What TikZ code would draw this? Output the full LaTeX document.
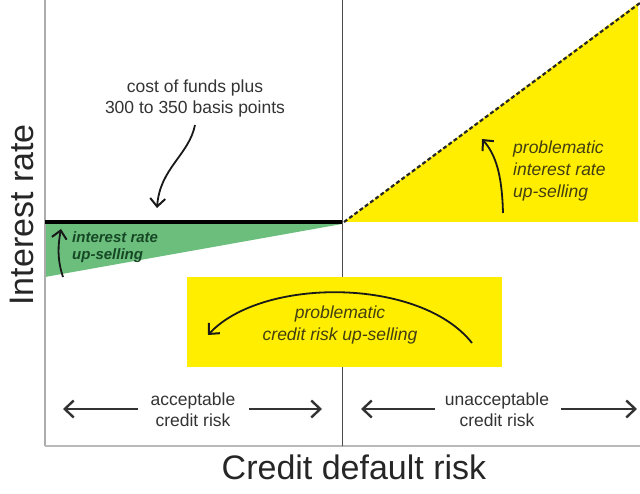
\documentclass[tikz,border=0pt]{standalone}
\usepackage{fontspec}
\setmainfont{Liberation Sans}
\usepackage{xcolor}
\usetikzlibrary{arrows.meta}
\definecolor{zoneyellow}{RGB}{255,238,0}
\definecolor{zonegreen}{RGB}{108,190,124}
\definecolor{inkgray}{RGB}{51,51,51}
\definecolor{inkgreen}{RGB}{22,72,38}
\definecolor{inkolive}{RGB}{66,62,18}

\begin{document}
\begin{tikzpicture}[x=1pt, y=-1pt,
  axisline/.style={draw=gray!65, line width=1.4pt},
  baseline/.style={draw=gray!55, line width=2.6pt},
  divider/.style={draw=black!70, line width=1pt},
  note/.style={font=\fontsize{17.5}{21}\selectfont, text=inkgray, align=center, inner sep=0pt},
  tag/.style={font=\fontsize{17.5}{22}\selectfont\itshape, text=inkolive, align=center, inner sep=0pt},
  greentag/.style={font=\fontsize{15}{17}\selectfont\itshape\bfseries, text=inkgreen, align=left, inner sep=0pt},
  axistitle/.style={font=\fontsize{34}{40}\selectfont, text=black!85, inner sep=0pt},
  bent/.style={draw=black!90, line width=1.8pt, -{Straight Barb[length=8pt,width=15pt,line width=2pt]}},
  spanarrow/.style={draw=inkgray, line width=1.6pt, -{Straight Barb[length=9pt,width=17pt,line width=2.4pt]}},
]
\useasboundingbox (0,0) rectangle (640,494);
% Zones
\fill[zonegreen]  (45,224) -- (342,224) -- (45,277) -- cycle;
\fill[zoneyellow] (344,222) -- (638,3) -- (638,222) -- cycle;
% Axes
\draw[axisline] (45,0) -- (45,446);
\draw[baseline] (45,446) -- (640,446);
\draw[divider] (342,0) -- (342,446);
\fill[zoneyellow] (187,277) rectangle (502,367);
\draw[black, line width=3.5pt] (45,222) -- (342,222);
\draw[black!85, line width=2.2pt, dash pattern=on 4pt off 2.5pt] (344,222) -- (640,3);
% Texts
\node[note] (cost) at (195,98.5) {cost of funds plus\\300 to 350 basis points};
\node[greentag, anchor=west] (irup) at (72,247) {interest rate\\up-selling};
\node[tag, align=left, anchor=west] (pirup) at (513,171) {problematic\\interest rate\\up-selling};
\node[tag] (pcrup) at (340,325) {problematic\\credit risk up-selling};
\node[note] (acc) at (193,410) {acceptable\\credit risk};
\node[note] (unacc) at (497,410) {unacceptable\\credit risk};
\node[axistitle] (xtitle) at (354,467) {Credit default risk};
\node[axistitle, rotate=90] (ytitle) at (22,215) {Interest rate};
% Arrows
\coordinate (costTail) at (195,125);
\coordinate (costTip)  at (157,208);
\draw[bent] (costTail) .. controls (189,155) and (160,168) .. (costTip);
\coordinate (irTail) at (63,277);
\coordinate (irTip)  at (61,229);
\draw[bent] (irTail) .. controls (57,259) and (58,245) .. (irTip);
\coordinate (pirTail) at (503,213);
\coordinate (pirTip)  at (482,139);
\draw[bent] (pirTail) .. controls (502,175) and (496,155) .. (pirTip);
\coordinate (pcrTail) at (472,343);
\coordinate (pcrTip)  at (208,335);
\draw[bent] (pcrTail) .. controls (420,277) and (262,277) .. (pcrTip);
\coordinate (accL) at (138,409);  \coordinate (accLtip) at (63,409);
\coordinate (accR) at (249,409);  \coordinate (accRtip) at (322,409);
\coordinate (unaL) at (435,409);  \coordinate (unaLtip) at (361,409);
\coordinate (unaR) at (561,409);  \coordinate (unaRtip) at (637,409);
\draw[spanarrow] (accL) -- (accLtip);
\draw[spanarrow] (accR) -- (accRtip);
\draw[spanarrow] (unaL) -- (unaLtip);
\draw[spanarrow] (unaR) -- (unaRtip);
\end{tikzpicture}
\end{document}
